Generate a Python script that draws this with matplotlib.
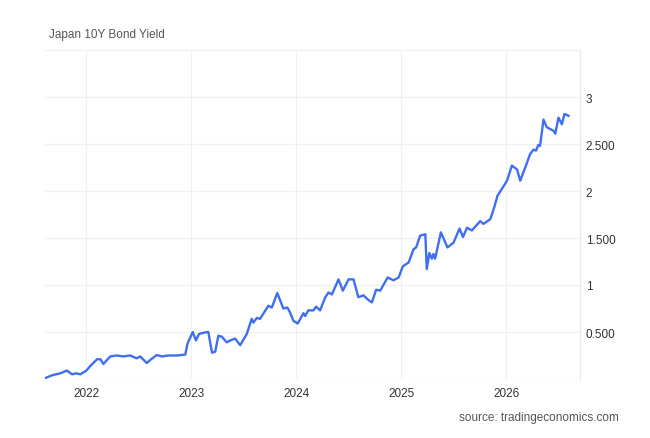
import matplotlib
matplotlib.use("Agg")
import matplotlib.pyplot as plt
import matplotlib.dates as mdates
import pandas as pd

dates = [
    "2021-08-11", "2021-09-04", "2021-10-02", "2021-10-25", "2021-11-12", "2021-11-27",
    "2021-12-11", "2022-01-01", "2022-01-15", "2022-02-07", "2022-02-19", "2022-03-01",
    "2022-03-25", "2022-04-17", "2022-05-09", "2022-06-02", "2022-06-25", "2022-07-07",
    "2022-07-30", "2022-08-14", "2022-09-03", "2022-09-21", "2022-10-12", "2022-11-12",
    "2022-12-11", "2022-12-19", "2023-01-06", "2023-01-17", "2023-01-28", "2023-02-24",
    "2023-03-01", "2023-03-14", "2023-03-25", "2023-04-05", "2023-04-17", "2023-05-04",
    "2023-05-16", "2023-06-02", "2023-06-20", "2023-07-13", "2023-07-30", "2023-08-05",
    "2023-08-17", "2023-08-28", "2023-09-26", "2023-10-08", "2023-10-27", "2023-11-17",
    "2023-12-01", "2023-12-10", "2023-12-22", "2024-01-06", "2024-01-26", "2024-02-01",
    "2024-02-12", "2024-03-01", "2024-03-10", "2024-03-24", "2024-04-11", "2024-04-22",
    "2024-05-04", "2024-05-27", "2024-06-11", "2024-07-01", "2024-07-18", "2024-08-04",
    "2024-08-22", "2024-09-08", "2024-09-20", "2024-10-05", "2024-10-19", "2024-11-14",
    "2024-12-04", "2024-12-22", "2025-01-06", "2025-01-26", "2025-02-12", "2025-02-21",
    "2025-03-07", "2025-03-25", "2025-03-30", "2025-04-08", "2025-04-17", "2025-04-22",
    "2025-04-28", "2025-05-18", "2025-06-10", "2025-07-01", "2025-07-22", "2025-08-03",
    "2025-08-17", "2025-09-03", "2025-10-02", "2025-10-13", "2025-11-06", "2025-11-20",
    "2025-12-01", "2025-12-22", "2026-01-03", "2026-01-20", "2026-02-07", "2026-02-18",
    "2026-03-10", "2026-03-24", "2026-04-05", "2026-04-14", "2026-04-22", "2026-04-28",
    "2026-05-10", "2026-05-21", "2026-06-02", "2026-06-14", "2026-06-20", "2026-07-01",
    "2026-07-13", "2026-07-22", "2026-08-05",
]
yields = [
    0.01, 0.04, 0.06, 0.09, 0.05, 0.06,
    0.05, 0.09, 0.14, 0.21, 0.21, 0.16,
    0.24, 0.25, 0.24, 0.25, 0.22, 0.24,
    0.17, 0.21, 0.255, 0.24, 0.25, 0.25,
    0.26, 0.38, 0.50, 0.41, 0.48, 0.50,
    0.50, 0.28, 0.29, 0.46, 0.45, 0.39,
    0.41, 0.43, 0.36, 0.48, 0.64, 0.60,
    0.65, 0.64, 0.78, 0.76, 0.915, 0.75,
    0.76, 0.71, 0.62, 0.59, 0.70, 0.67,
    0.73, 0.73, 0.77, 0.73, 0.87, 0.92,
    0.90, 1.06, 0.94, 1.06, 1.06, 0.87,
    0.89, 0.84, 0.815, 0.95, 0.94, 1.08,
    1.05, 1.08, 1.20, 1.24, 1.38, 1.40,
    1.525, 1.54, 1.17, 1.34, 1.28, 1.33,
    1.28, 1.56, 1.40, 1.45, 1.60, 1.51,
    1.61, 1.58, 1.68, 1.65, 1.70, 1.83,
    1.95, 2.05, 2.11, 2.27, 2.23, 2.11,
    2.27, 2.39, 2.44, 2.43, 2.49, 2.48,
    2.76, 2.68, 2.66, 2.64, 2.61, 2.78,
    2.71, 2.82, 2.80,
]
y_ticks = [0.5, 1, 1.5, 2, 2.5, 3]
y_tick_labels = ["0.500", "1", "1.500", "2", "2.500", "3"]
x_tick_years = [2022, 2023, 2024, 2025, 2026]
title_text = "Japan 10Y Bond Yield"
source_text = "source: tradingeconomics.com"

plt.rcParams['font.family'] = ['Liberation Sans', 'DejaVu Sans']

x = pd.to_datetime(dates)

fig = plt.figure(figsize=(6.5, 4.39), dpi=100)
ax = fig.add_axes([45 / 650, 1 - 380 / 439, (580 - 45) / 650, (380 - 51) / 439])

ax.plot(x, yields, color="#3f6ff0", linewidth=1.7, solid_joinstyle="round")

ax.set_xlim(pd.Timestamp("2021-08-10"), pd.Timestamp("2026-09-14"))
ax.set_ylim(0, 3.5)

ax.set_yticks([0, 0.5, 1, 1.5, 2, 2.5, 3, 3.5])
ax.set_yticklabels([""] + y_tick_labels + [""])
ax.yaxis.tick_right()
ax.set_xticks([pd.Timestamp(f"{y}-01-01") for y in x_tick_years])
ax.set_xticklabels([str(y) for y in x_tick_years])

ax.tick_params(axis="both", length=0, labelsize=8.5, labelcolor="#333333")
ax.tick_params(axis="y", pad=4)
ax.tick_params(axis="x", pad=6)

ax.grid(True, color="#eef0f3", linewidth=0.9)
ax.set_axisbelow(True)
for s in ["top", "left", "bottom"]:
    ax.spines[s].set_visible(False)
ax.spines["right"].set_color("#e6e8ec")
ax.spines["right"].set_linewidth(0.9)

fig.text(49 / 650, 1 - 35 / 439, title_text, fontsize=8.5, color="#555555",
         ha="left", va="center")
fig.text(619 / 650, 1 - 418 / 439, source_text, fontsize=8.5, color="#555555",
         ha="right", va="center")

fig.savefig("out.png", dpi=100, facecolor="white")
